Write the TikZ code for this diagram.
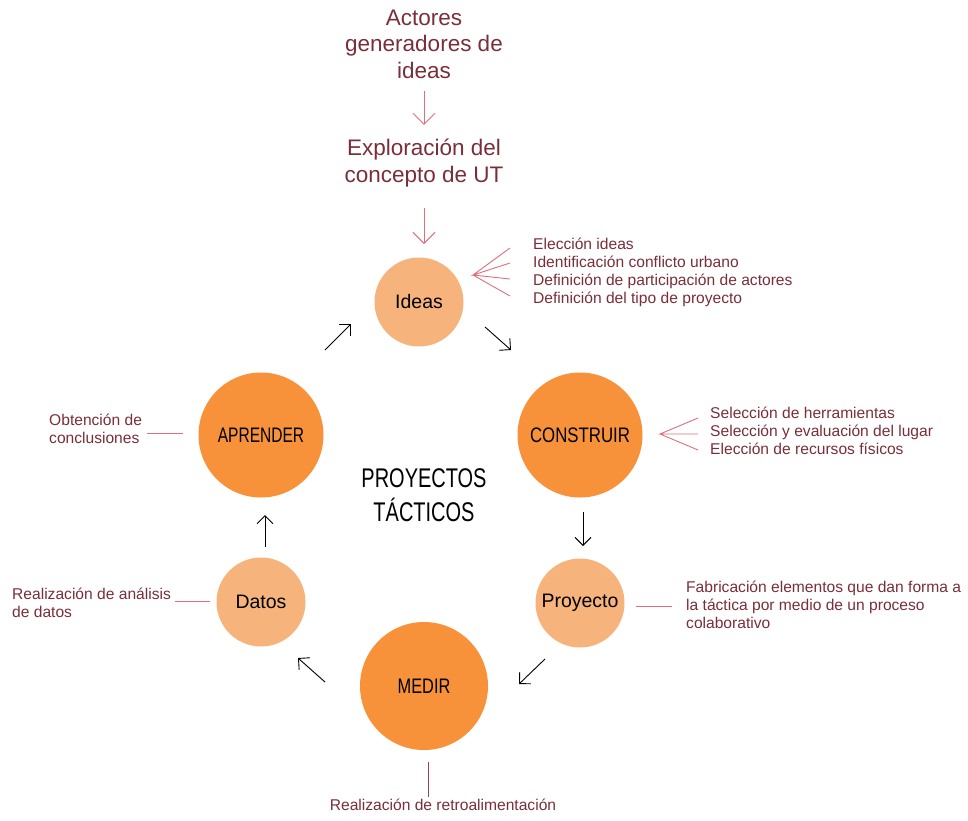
\documentclass[tikz,border=0pt]{standalone}
\usepackage{fontspec}
\setmainfont{Liberation Sans}
\usetikzlibrary{arrows.meta}
\definecolor{darkor}{HTML}{F7923A}
\definecolor{lightor}{HTML}{F6B47C}
\definecolor{maroon}{HTML}{7A2E3A}
\definecolor{pinkl}{HTML}{DE6F7B}
\tikzset{
  bigc/.style={circle, fill=darkor, minimum size=125pt, inner sep=0pt, font=\fontsize{21}{24}\selectfont},
  smallc/.style={circle, fill=lightor, minimum size=89pt, inner sep=0pt, font=\fontsize{19.5}{22}\selectfont},
  flow/.style={draw=black, line width=0.9pt, -{Straight Barb[length=8pt,width=16pt]}},
  redarr/.style={draw=pinkl, line width=1pt, -{Straight Barb[length=11pt,width=22pt]}},
  toptext/.style={text=maroon, font=\fontsize{22.5}{26.5}\selectfont, align=center, inner sep=0pt},
  note/.style={text=maroon, font=\fontsize{15.6}{18}\selectfont, align=left, inner sep=0pt},
  leader/.style={draw=pinkl, line width=0.9pt},
}
\newcommand{\cnd}[2][0.72]{\scalebox{#1}[1]{#2}}
\begin{document}
\begin{tikzpicture}[x=1pt,y=-1pt]
\useasboundingbox (0,0) rectangle (968,820);

% top texts
\node[toptext] (actores) at (424,44) {Actores\\generadores de\\ideas};
\node[toptext] (explo) at (424,163) {Exploración del\\concepto de UT};

% circles
\node[smallc] (ideas) at (419,302) {Ideas};
\node[bigc] (construir) at (580,435) {\cnd[0.8]{CONSTRUIR}};
\node[bigc] (aprender) at (261,435) {\cnd[0.74]{APRENDER}};
\node[smallc] (proyecto) at (580,603) {Proyecto};
\node[smallc] (datos) at (261,602) {Datos};
\node[bigc, minimum size=128pt] (medir) at (424,686) {\cnd[0.78]{MEDIR}};

% center title
\node[font=\fontsize{27}{34}\selectfont, align=center, inner sep=0pt] (title) at (424,495)
  {\scalebox{0.74}[1]{PROYECTOS}\\\scalebox{0.74}[1]{TÁCTICOS}};

% red arrows
\draw[redarr] ([yshift=-12pt]actores.south) -- ([yshift=14pt]explo.north);
\coordinate (r2s) at (424,208);
\coordinate (r2e) at (424,244);
\draw[redarr] (r2s) -- (r2e);

% black cycle arrows
\coordinate (a1s) at (485,327); \coordinate (a1e) at (511,350);
\coordinate (a2s) at (583,512); \coordinate (a2e) at (583,546);
\coordinate (a3s) at (545,659); \coordinate (a3e) at (519,684);
\coordinate (a4s) at (325,682); \coordinate (a4e) at (298,658);
\coordinate (a5s) at (265,547); \coordinate (a5e) at (265,515);
\coordinate (a6s) at (325,350); \coordinate (a6e) at (351,324);
\draw[flow] (a1s) -- (a1e);
\draw[flow] (a2s) -- (a2e);
\draw[flow] (a3s) -- (a3e);
\draw[flow] (a4s) -- (a4e);
\draw[flow] (a5s) -- (a5e);
\draw[flow] (a6s) -- (a6e);

% Ideas notes
\node[note, anchor=north west] (ideasnote) at (533,238)
  {Elección ideas\\Identificación conflicto urbano\\Definición de participación de actores\\Definición del tipo de proyecto};
\coordinate (f1) at (473,275);
\coordinate (f1a) at (510,248);
\coordinate (f1b) at (510,263);
\coordinate (f1c) at (510,279);
\coordinate (f1d) at (510,296);
\draw[leader] (f1a) -- (f1) -- (f1b) (f1) -- (f1c) (f1) -- (f1d);

% Construir notes
\node[note, anchor=north west] (consnote) at (710,407)
  {Selección de herramientas\\Selección y evaluación del lugar\\Elección de recursos físicos};
\coordinate (f2) at (660,434);
\coordinate (f2a) at (698,418);
\coordinate (f2b) at (698,434);
\coordinate (f2c) at (698,450);
\draw[leader] (f2a) -- (f2) -- (f2b) (f2) -- (f2c);

% Aprender note
\node[note, anchor=north west] (aprnote) at (49,414) {Obtención de\\conclusiones};
\coordinate (l1s) at (147,433); \coordinate (l1e) at (183,433);
\draw[leader] (l1s) -- (l1e);

% Datos note
\node[note, anchor=north west] (datnote) at (12,588) {Realización de análisis\\de datos};
\coordinate (l2s) at (175,601); \coordinate (l2e) at (210,601);
\draw[leader] (l2s) -- (l2e);

% Proyecto note
\node[note, anchor=north west] (proynote) at (686,581)
  {Fabricación elementos que dan forma a\\la táctica por medio de un proceso\\colaborativo};
\coordinate (l3s) at (636,606); \coordinate (l3e) at (672,606);
\draw[leader] (l3s) -- (l3e);

% Medir note
\node[note, anchor=north] (mednote) at (443,799) {Realización de retroalimentación};
\coordinate (l4s) at (428,762); \coordinate (l4e) at (428,797);
\draw[leader, draw=maroon!70!pinkl] (l4s) -- (l4e);
\end{tikzpicture}
\end{document}
